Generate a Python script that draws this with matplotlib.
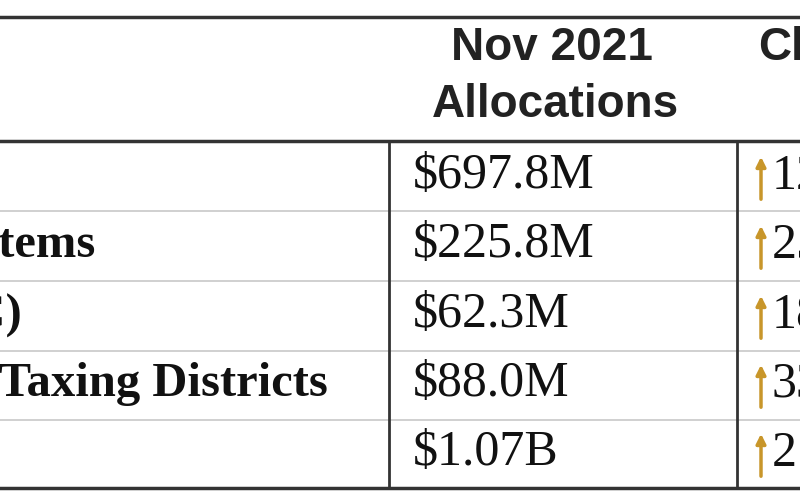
import matplotlib
matplotlib.use("Agg")
import matplotlib.pyplot as plt

# table content
labels = ["Hospitals", "Health Systems", "Clinics (FQHC)", "Health Care Taxing Districts", "Total"]
label_right = [-10, 95, 22, 328, -10]   # where each label ends (image is cropped)
allocations = ["$697.8M", "$225.8M", "$62.3M", "$88.0M", "$1.07B"]
changes = ["12%", "25%", "18%", "33%", "21%"]

fig = plt.figure(figsize=(8, 5), dpi=100)
ax = fig.add_axes([0, 0, 1, 1])
ax.set_xlim(0, 800)
ax.set_ylim(500, 0)
ax.axis("off")

# frame lines
ax.plot([0, 800], [17, 17], color="#333333", lw=2.5)
ax.plot([0, 800], [141, 141], color="#333333", lw=2.5)
ax.plot([0, 800], [488, 488], color="#333333", lw=2.5)
for y in [211, 281, 351, 420]:
    ax.plot([0, 800], [y, y], color="#c8c8c8", lw=1.2)
ax.plot([389, 389], [141, 488], color="#333333", lw=2)
ax.plot([737, 737], [141, 488], color="#333333", lw=2)

# header
ax.text(552, 48, "Nov 2021", ha="center", va="center", fontsize=33, fontweight="bold",
        family="Liberation Sans", color="#222222")
ax.text(555, 105, "Allocations", ha="center", va="center", fontsize=33, fontweight="bold",
        family="Liberation Sans", color="#222222")
ax.text(758, 48, "Change", ha="left", va="center", fontsize=33, fontweight="bold",
        family="Liberation Sans", color="#222222")

rows_y = [176, 245, 315, 384, 453]
for lab, xr, val, ch, y in zip(labels, label_right, allocations, changes, rows_y):
    ax.text(xr, y, lab, ha="right", va="center", fontsize=35, fontweight="bold",
            family="Liberation Serif", color="#111111")
    ax.text(413, y, val, ha="left", va="center", fontsize=36,
            family="Liberation Serif", color="#111111")
    ax.annotate("", xy=(761, y - 22), xytext=(761, y + 26),
                arrowprops=dict(arrowstyle="-|>", color="#c8962a", lw=2.5, mutation_scale=14))
    ax.text(772, y, ch, ha="left", va="center", fontsize=36,
            family="Liberation Serif", color="#111111")

fig.savefig("out.png", dpi=100)
